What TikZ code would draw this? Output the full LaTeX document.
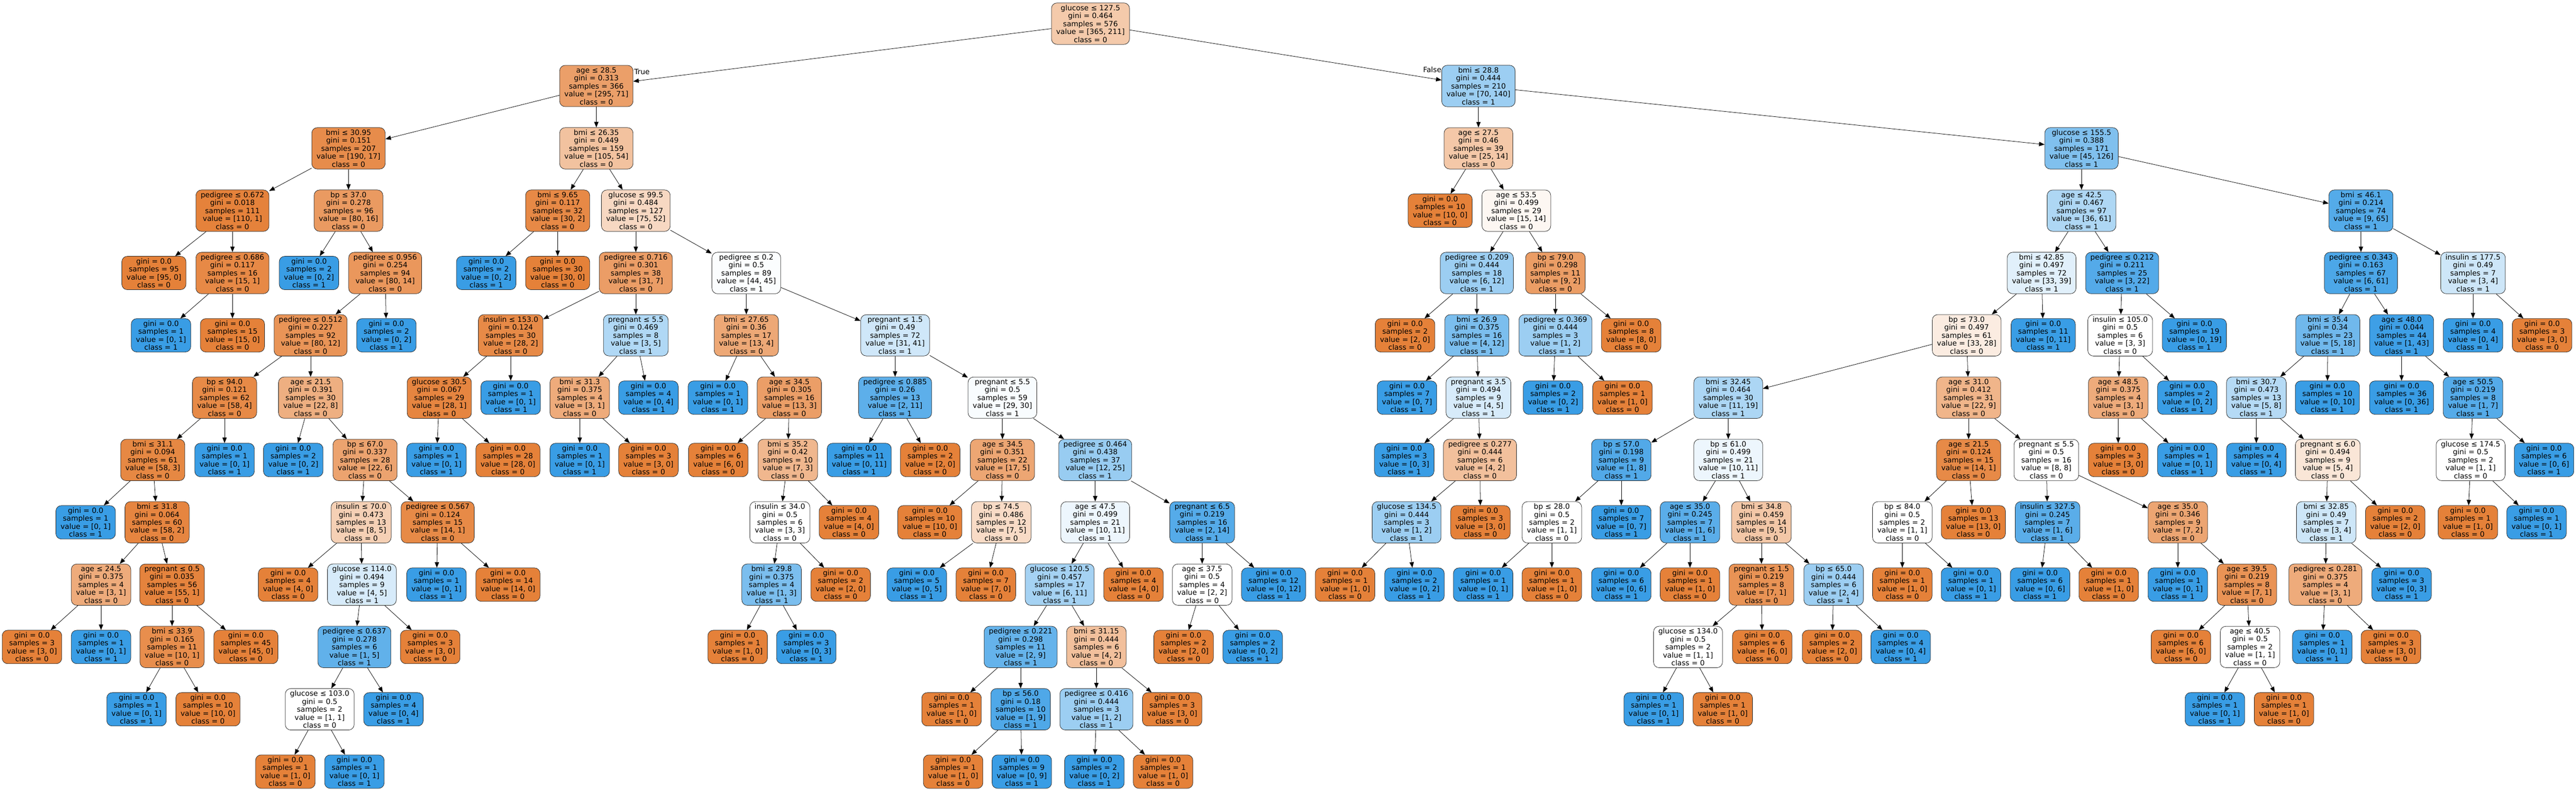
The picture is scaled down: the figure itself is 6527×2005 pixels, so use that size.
\documentclass[tikz,border=0pt]{standalone}
\usepackage{fontspec}
\setmainfont{DejaVu Sans}
\usetikzlibrary{arrows.meta}

\definecolor{corange}{HTML}{E58139}
\definecolor{cblue}{HTML}{399DE5}

\tikzset{tbox/.style={draw=black!85, line width=0.5pt, rounded corners=7pt, align=center,
           inner xsep=6pt, inner ysep=2.5pt, font=\fontsize{9.2}{10.1}\selectfont},
         lbl/.style={inner sep=0pt, font=\fontsize{9.2}{10.1}\selectfont}}

% split node: name, x, depth, test, gini, value0, value1
\newcommand{\dsplit}[7]{%
  \pgfmathtruncatemacro\nsum{#6+#7}%
  \ifnum#6<#7\relax
    \pgfmathsetmacro\nshade{(#7-#6)/#7*100}\def\nclass{1}\def\ncol{cblue}%
  \else
    \pgfmathsetmacro\nshade{(#6-#7)/#6*100}\def\nclass{0}\def\ncol{corange}%
  \fi
  \node[tbox, fill=\ncol!\nshade!white] (#1) at (#2,{60+158*#3})
    {#4\\gini = #5\\samples = \nsum\\value = [#6, #7]\\class = \nclass};}

% leaf: name, x, depth, value0, value1
\newcommand{\dleaf}[5]{%
  \pgfmathtruncatemacro\nsum{#4+#5}%
  \ifnum#4<#5\relax\def\nclass{1}\def\ncol{cblue}%
  \else\def\nclass{0}\def\ncol{corange}\fi
  \node[tbox, fill=\ncol] (#1) at (#2,{60+158*#3})
    {gini = 0.0\\samples = \nsum\\value = [#4, #5]\\class = \nclass};}

\begin{document}
\begin{tikzpicture}[x=0.5pt,y=-0.5pt,->,>={Triangle[length=7pt,width=5.5pt]},line width=0.5pt]

      \useasboundingbox (0,0) rectangle (6527,2005);

      \dsplit{n0}{2763}{0}{glucose ≤ 127.5}{0.464}{365}{211}
      \dsplit{n1}{1511}{1}{age ≤ 28.5}{0.313}{295}{71}
      \dsplit{n2}{883}{2}{bmi ≤ 30.95}{0.151}{190}{17}
      \dsplit{n3}{589}{3}{pedigree ≤ 0.672}{0.018}{110}{1}
      \dleaf{n4}{390}{4}{95}{0}
      \dsplit{n5}{589}{4}{pedigree ≤ 0.686}{0.117}{15}{1}
      \dleaf{n6}{408}{5}{0}{1}
      \dleaf{n7}{589}{5}{15}{0}
      \dsplit{n8}{883}{3}{bp ≤ 37.0}{0.278}{80}{16}
      \dleaf{n9}{783}{4}{0}{2}
      \dsplit{n10}{976}{4}{pedigree ≤ 0.956}{0.254}{80}{14}
      \dsplit{n11}{787}{5}{pedigree ≤ 0.512}{0.227}{80}{12}
      \dsplit{n12}{569}{6}{bp ≤ 94.0}{0.121}{58}{4}
      \dsplit{n13}{387}{7}{bmi ≤ 31.1}{0.094}{58}{3}
      \dleaf{n14}{217}{8}{0}{1}
      \dsplit{n15}{398}{8}{bmi ≤ 31.8}{0.064}{58}{2}
      \dsplit{n16}{256}{9}{age ≤ 24.5}{0.375}{3}{1}
      \dleaf{n17}{81}{10}{3}{0}
      \dleaf{n18}{256}{10}{0}{1}
      \dsplit{n19}{436}{9}{pregnant ≤ 0.5}{0.035}{55}{1}
      \dsplit{n20}{436}{10}{bmi ≤ 33.9}{0.165}{10}{1}
      \dleaf{n21}{346}{11}{0}{1}
      \dleaf{n22}{527}{11}{10}{0}
      \dleaf{n23}{623}{10}{45}{0}
      \dleaf{n24}{569}{7}{0}{1}
      \dsplit{n25}{787}{6}{age ≤ 21.5}{0.391}{22}{8}
      \dleaf{n26}{743}{7}{0}{2}
      \dsplit{n27}{925}{7}{bp ≤ 67.0}{0.337}{22}{6}
      \dsplit{n28}{915}{8}{insulin ≤ 70.0}{0.473}{8}{5}
      \dleaf{n29}{730}{9}{4}{0}
      \dsplit{n30}{917}{9}{glucose ≤ 114.0}{0.494}{4}{5}
      \dsplit{n31}{898}{10}{pedigree ≤ 0.637}{0.278}{1}{5}
      \dsplit{n32}{810}{11}{glucose ≤ 103.0}{0.5}{1}{1}
      \dleaf{n33}{723}{12}{1}{0}
      \dleaf{n34}{898}{12}{0}{1}
      \dleaf{n35}{997}{11}{0}{4}
      \dleaf{n36}{1090}{10}{3}{0}
      \dsplit{n37}{1109}{8}{pedigree ≤ 0.567}{0.124}{14}{1}
      \dleaf{n38}{1106}{9}{0}{1}
      \dleaf{n39}{1287}{9}{14}{0}
      \dleaf{n40}{979}{5}{0}{2}
      \dsplit{n41}{1511}{2}{bmi ≤ 26.35}{0.449}{105}{54}
      \dsplit{n42}{1413}{3}{bmi ≤ 9.65}{0.117}{30}{2}
      \dleaf{n43}{1232}{4}{0}{2}
      \dleaf{n44}{1413}{4}{30}{0}
      \dsplit{n45}{1611}{3}{glucose ≤ 99.5}{0.484}{75}{52}
      \dsplit{n46}{1611}{4}{pedigree ≤ 0.716}{0.301}{31}{7}
      \dsplit{n47}{1294}{5}{insulin ≤ 153.0}{0.124}{28}{2}
      \dsplit{n48}{1113}{6}{glucose ≤ 30.5}{0.067}{28}{1}
      \dleaf{n49}{1106}{7}{0}{1}
      \dleaf{n50}{1287}{7}{28}{0}
      \dleaf{n51}{1294}{6}{0}{1}
      \dsplit{n52}{1611}{5}{pregnant ≤ 5.5}{0.469}{3}{5}
      \dsplit{n53}{1469}{6}{bmi ≤ 31.3}{0.375}{3}{1}
      \dleaf{n54}{1469}{7}{0}{1}
      \dleaf{n55}{1643}{7}{3}{0}
      \dleaf{n56}{1643}{6}{0}{4}
      \dsplit{n57}{1891}{4}{pedigree ≤ 0.2}{0.5}{44}{45}
      \dsplit{n58}{1891}{5}{bmi ≤ 27.65}{0.36}{13}{4}
      \dleaf{n59}{1819}{6}{0}{1}
      \dsplit{n60}{2000}{6}{age ≤ 34.5}{0.305}{13}{3}
      \dleaf{n61}{1820}{7}{6}{0}
      \dsplit{n62}{1996}{7}{bmi ≤ 35.2}{0.42}{7}{3}
      \dsplit{n63}{1976}{8}{insulin ≤ 34.0}{0.5}{3}{3}
      \dsplit{n64}{1955}{9}{bmi ≤ 29.8}{0.375}{1}{3}
      \dleaf{n65}{1869}{10}{1}{0}
      \dleaf{n66}{2043}{10}{0}{3}
      \dleaf{n67}{2130}{9}{2}{0}
      \dleaf{n68}{2151}{8}{4}{0}
      \dsplit{n69}{2268}{5}{pregnant ≤ 1.5}{0.49}{31}{41}
      \dsplit{n70}{2268}{6}{pedigree ≤ 0.885}{0.26}{2}{11}
      \dleaf{n71}{2177}{7}{0}{11}
      \dleaf{n72}{2357}{7}{2}{0}
      \dsplit{n73}{2540}{6}{pregnant ≤ 5.5}{0.5}{29}{30}
      \dsplit{n74}{2540}{7}{age ≤ 34.5}{0.351}{17}{5}
      \dleaf{n75}{2356}{8}{10}{0}
      \dsplit{n76}{2537}{8}{bp ≤ 74.5}{0.486}{7}{5}
      \dleaf{n77}{2323}{9}{0}{5}
      \dleaf{n78}{2498}{9}{7}{0}
      \dsplit{n79}{2775}{7}{pedigree ≤ 0.464}{0.438}{12}{25}
      \dsplit{n80}{2775}{8}{age ≤ 47.5}{0.499}{10}{11}
      \dsplit{n81}{2685}{9}{glucose ≤ 120.5}{0.457}{6}{11}
      \dsplit{n82}{2586}{10}{pedigree ≤ 0.221}{0.298}{2}{9}
      \dleaf{n83}{2411}{11}{1}{0}
      \dsplit{n84}{2586}{11}{bp ≤ 56.0}{0.18}{1}{9}
      \dleaf{n85}{2415}{12}{1}{0}
      \dleaf{n86}{2589}{12}{0}{9}
      \dsplit{n87}{2778}{10}{bmi ≤ 31.15}{0.444}{4}{2}
      \dsplit{n88}{2778}{11}{pedigree ≤ 0.416}{0.444}{1}{2}
      \dleaf{n89}{2773}{12}{0}{2}
      \dleaf{n90}{2947}{12}{1}{0}
      \dleaf{n91}{2970}{11}{3}{0}
      \dleaf{n92}{2872}{9}{4}{0}
      \dsplit{n93}{3046}{8}{pregnant ≤ 6.5}{0.219}{2}{14}
      \dsplit{n94}{3046}{9}{age ≤ 37.5}{0.5}{2}{2}
      \dleaf{n95}{2999}{10}{2}{0}
      \dleaf{n96}{3174}{10}{0}{2}
      \dleaf{n97}{3227}{9}{0}{12}
      \dsplit{n98}{3746}{1}{bmi ≤ 28.8}{0.444}{70}{140}
      \dsplit{n99}{3746}{2}{age ≤ 27.5}{0.46}{25}{14}
      \dleaf{n100}{3649}{3}{10}{0}
      \dsplit{n101}{3842}{3}{age ≤ 53.5}{0.499}{15}{14}
      \dsplit{n102}{3742}{4}{pedigree ≤ 0.209}{0.444}{6}{12}
      \dleaf{n103}{3560}{5}{2}{0}
      \dsplit{n104}{3742}{5}{bmi ≤ 26.9}{0.375}{4}{12}
      \dleaf{n105}{3565}{6}{0}{7}
      \dsplit{n106}{3746}{6}{pregnant ≤ 3.5}{0.494}{4}{5}
      \dleaf{n107}{3558}{7}{0}{3}
      \dsplit{n108}{3750}{7}{pedigree ≤ 0.277}{0.444}{4}{2}
      \dsplit{n109}{3564}{8}{glucose ≤ 134.5}{0.444}{1}{2}
      \dleaf{n110}{3408}{9}{1}{0}
      \dleaf{n111}{3584}{9}{0}{2}
      \dleaf{n112}{3751}{8}{3}{0}
      \dsplit{n113}{3941}{4}{bp ≤ 79.0}{0.298}{9}{2}
      \dsplit{n114}{3941}{5}{pedigree ≤ 0.369}{0.444}{1}{2}
      \dleaf{n115}{3935}{6}{0}{2}
      \dleaf{n116}{4111}{6}{1}{0}
      \dleaf{n117}{4133}{5}{8}{0}
      \dsplit{n118}{5274}{2}{glucose ≤ 155.5}{0.388}{45}{126}
      \dsplit{n119}{5274}{3}{age ≤ 42.5}{0.467}{36}{61}
      \dsplit{n120}{5173}{4}{bmi ≤ 42.85}{0.497}{33}{39}
      \dsplit{n121}{4983}{5}{bp ≤ 73.0}{0.497}{33}{28}
      \dsplit{n122}{4379}{6}{bmi ≤ 32.45}{0.464}{11}{19}
      \dsplit{n123}{4108}{7}{bp ≤ 57.0}{0.198}{1}{8}
      \dsplit{n124}{3932}{8}{bp ≤ 28.0}{0.5}{1}{1}
      \dleaf{n125}{3758}{9}{0}{1}
      \dleaf{n126}{3932}{9}{1}{0}
      \dleaf{n127}{4108}{8}{0}{7}
      \dsplit{n128}{4379}{7}{bp ≤ 61.0}{0.499}{10}{11}
      \dsplit{n129}{4282}{8}{age ≤ 35.0}{0.245}{1}{6}
      \dleaf{n130}{4108}{9}{0}{6}
      \dleaf{n131}{4282}{9}{1}{0}
      \dsplit{n132}{4463}{8}{bmi ≤ 34.8}{0.459}{9}{5}
      \dsplit{n133}{4463}{9}{pregnant ≤ 1.5}{0.219}{7}{1}
      \dsplit{n134}{4277}{10}{glucose ≤ 134.0}{0.5}{1}{1}
      \dleaf{n135}{4190}{11}{0}{1}
      \dleaf{n136}{4365}{11}{1}{0}
      \dleaf{n137}{4465}{10}{6}{0}
      \dsplit{n138}{4646}{9}{bp ≤ 65.0}{0.444}{2}{4}
      \dleaf{n139}{4642}{10}{2}{0}
      \dleaf{n140}{4816}{10}{0}{4}
      \dsplit{n141}{4988}{6}{age ≤ 31.0}{0.412}{22}{9}
      \dsplit{n142}{4988}{7}{age ≤ 21.5}{0.124}{14}{1}
      \dsplit{n143}{4820}{8}{bp ≤ 84.0}{0.5}{1}{1}
      \dleaf{n144}{4820}{9}{1}{0}
      \dleaf{n145}{4994}{9}{0}{1}
      \dleaf{n146}{5000}{8}{13}{0}
      \dsplit{n147}{5185}{7}{pregnant ≤ 5.5}{0.5}{8}{8}
      \dsplit{n148}{5188}{8}{insulin ≤ 327.5}{0.245}{1}{6}
      \dleaf{n149}{5169}{9}{0}{6}
      \dleaf{n150}{5343}{9}{1}{0}
      \dsplit{n151}{5518}{8}{age ≤ 35.0}{0.346}{7}{2}
      \dleaf{n152}{5518}{9}{0}{1}
      \dsplit{n153}{5693}{9}{age ≤ 39.5}{0.219}{7}{1}
      \dleaf{n154}{5526}{10}{6}{0}
      \dsplit{n155}{5701}{10}{age ≤ 40.5}{0.5}{1}{1}
      \dleaf{n156}{5612}{11}{0}{1}
      \dleaf{n157}{5787}{11}{1}{0}
      \dleaf{n158}{5177}{5}{0}{11}
      \dsplit{n159}{5377}{4}{pedigree ≤ 0.212}{0.211}{3}{22}
      \dsplit{n160}{5372}{5}{insulin ≤ 105.0}{0.5}{3}{3}
      \dsplit{n161}{5367}{6}{age ≤ 48.5}{0.375}{3}{1}
      \dleaf{n162}{5367}{7}{3}{0}
      \dleaf{n163}{5542}{7}{0}{1}
      \dleaf{n164}{5542}{6}{0}{2}
      \dleaf{n165}{5560}{5}{0}{19}
      \dsplit{n166}{5982}{3}{bmi ≤ 46.1}{0.214}{9}{65}
      \dsplit{n167}{5982}{4}{pedigree ≤ 0.343}{0.163}{6}{61}
      \dsplit{n168}{5898}{5}{bmi ≤ 35.4}{0.34}{5}{18}
      \dsplit{n169}{5717}{6}{bmi ≤ 30.7}{0.473}{5}{8}
      \dleaf{n170}{5717}{7}{0}{4}
      \dsplit{n171}{5898}{7}{pregnant ≤ 6.0}{0.494}{5}{4}
      \dsplit{n172}{5894}{8}{bmi ≤ 32.85}{0.49}{3}{4}
      \dsplit{n173}{5892}{9}{pedigree ≤ 0.281}{0.375}{3}{1}
      \dleaf{n174}{5884}{10}{0}{1}
      \dleaf{n175}{6058}{10}{3}{0}
      \dleaf{n176}{6085}{9}{0}{3}
      \dleaf{n177}{6069}{8}{2}{0}
      \dleaf{n178}{5897}{6}{0}{10}
      \dsplit{n179}{6085}{5}{age ≤ 48.0}{0.044}{1}{43}
      \dleaf{n180}{6085}{6}{0}{36}
      \dsplit{n181}{6266}{6}{age ≤ 50.5}{0.219}{1}{7}
      \dsplit{n182}{6260}{7}{glucose ≤ 174.5}{0.5}{1}{1}
      \dleaf{n183}{6253}{8}{1}{0}
      \dleaf{n184}{6427}{8}{0}{1}
      \dleaf{n185}{6446}{7}{0}{6}
      \dsplit{n186}{6266}{4}{insulin ≤ 177.5}{0.49}{3}{4}
      \dleaf{n187}{6266}{5}{0}{4}
      \dleaf{n188}{6441}{5}{3}{0}

      \node[lbl, anchor=north west] (ltrue) at ([xshift=1pt,yshift=-4.5pt]n1.north east) {True};
      \node[lbl, anchor=north east] (lfalse) at ([yshift=-2pt]n98.north west) {False};

      \path (n0) edge (n1)        (n0) edge (n98)
            (n1) edge (n2)        (n1) edge (n41)
            (n2) edge (n3)        (n2) edge (n8)
            (n3) edge (n4)        (n3) edge (n5)
            (n5) edge (n6)        (n5) edge (n7)
            (n8) edge (n9)        (n8) edge (n10)
            (n10) edge (n11)      (n10) edge (n40)
            (n11) edge (n12)      (n11) edge (n25)
            (n12) edge (n13)      (n12) edge (n24)
            (n13) edge (n14)      (n13) edge (n15)
            (n15) edge (n16)      (n15) edge (n19)
            (n16) edge (n17)      (n16) edge (n18)
            (n19) edge (n20)      (n19) edge (n23)
            (n20) edge (n21)      (n20) edge (n22)
            (n25) edge (n26)      (n25) edge (n27)
            (n27) edge (n28)      (n27) edge (n37)
            (n28) edge (n29)      (n28) edge (n30)
            (n30) edge (n31)      (n30) edge (n36)
            (n31) edge (n32)      (n31) edge (n35)
            (n32) edge (n33)      (n32) edge (n34)
            (n37) edge (n38)      (n37) edge (n39)
            (n41) edge (n42)      (n41) edge (n45)
            (n42) edge (n43)      (n42) edge (n44)
            (n45) edge (n46)      (n45) edge (n57)
            (n46) edge (n47)      (n46) edge (n52)
            (n47) edge (n48)      (n47) edge (n51)
            (n48) edge (n49)      (n48) edge (n50)
            (n52) edge (n53)      (n52) edge (n56)
            (n53) edge (n54)      (n53) edge (n55)
            (n57) edge (n58)      (n57) edge (n69)
            (n58) edge (n59)      (n58) edge (n60)
            (n60) edge (n61)      (n60) edge (n62)
            (n62) edge (n63)      (n62) edge (n68)
            (n63) edge (n64)      (n63) edge (n67)
            (n64) edge (n65)      (n64) edge (n66)
            (n69) edge (n70)      (n69) edge (n73)
            (n70) edge (n71)      (n70) edge (n72)
            (n73) edge (n74)      (n73) edge (n79)
            (n74) edge (n75)      (n74) edge (n76)
            (n76) edge (n77)      (n76) edge (n78)
            (n79) edge (n80)      (n79) edge (n93)
            (n80) edge (n81)      (n80) edge (n92)
            (n81) edge (n82)      (n81) edge (n87)
            (n82) edge (n83)      (n82) edge (n84)
            (n84) edge (n85)      (n84) edge (n86)
            (n87) edge (n88)      (n87) edge (n91)
            (n88) edge (n89)      (n88) edge (n90)
            (n93) edge (n94)      (n93) edge (n97)
            (n94) edge (n95)      (n94) edge (n96)
            (n98) edge (n99)      (n98) edge (n118)
            (n99) edge (n100)     (n99) edge (n101)
            (n101) edge (n102)    (n101) edge (n113)
            (n102) edge (n103)    (n102) edge (n104)
            (n104) edge (n105)    (n104) edge (n106)
            (n106) edge (n107)    (n106) edge (n108)
            (n108) edge (n109)    (n108) edge (n112)
            (n109) edge (n110)    (n109) edge (n111)
            (n113) edge (n114)    (n113) edge (n117)
            (n114) edge (n115)    (n114) edge (n116)
            (n118) edge (n119)    (n118) edge (n166)
            (n119) edge (n120)    (n119) edge (n159)
            (n120) edge (n121)    (n120) edge (n158)
            (n121) edge (n122)    (n121) edge (n141)
            (n122) edge (n123)    (n122) edge (n128)
            (n123) edge (n124)    (n123) edge (n127)
            (n124) edge (n125)    (n124) edge (n126)
            (n128) edge (n129)    (n128) edge (n132)
            (n129) edge (n130)    (n129) edge (n131)
            (n132) edge (n133)    (n132) edge (n138)
            (n133) edge (n134)    (n133) edge (n137)
            (n134) edge (n135)    (n134) edge (n136)
            (n138) edge (n139)    (n138) edge (n140)
            (n141) edge (n142)    (n141) edge (n147)
            (n142) edge (n143)    (n142) edge (n146)
            (n143) edge (n144)    (n143) edge (n145)
            (n147) edge (n148)    (n147) edge (n151)
            (n148) edge (n149)    (n148) edge (n150)
            (n151) edge (n152)    (n151) edge (n153)
            (n153) edge (n154)    (n153) edge (n155)
            (n155) edge (n156)    (n155) edge (n157)
            (n159) edge (n160)    (n159) edge (n165)
            (n160) edge (n161)    (n160) edge (n164)
            (n161) edge (n162)    (n161) edge (n163)
            (n166) edge (n167)    (n166) edge (n186)
            (n167) edge (n168)    (n167) edge (n179)
            (n168) edge (n169)    (n168) edge (n178)
            (n169) edge (n170)    (n169) edge (n171)
            (n171) edge (n172)    (n171) edge (n177)
            (n172) edge (n173)    (n172) edge (n176)
            (n173) edge (n174)    (n173) edge (n175)
            (n179) edge (n180)    (n179) edge (n181)
            (n181) edge (n182)    (n181) edge (n185)
            (n182) edge (n183)    (n182) edge (n184)
            (n186) edge (n187)    (n186) edge (n188)
            ;

\end{tikzpicture}
\end{document}
